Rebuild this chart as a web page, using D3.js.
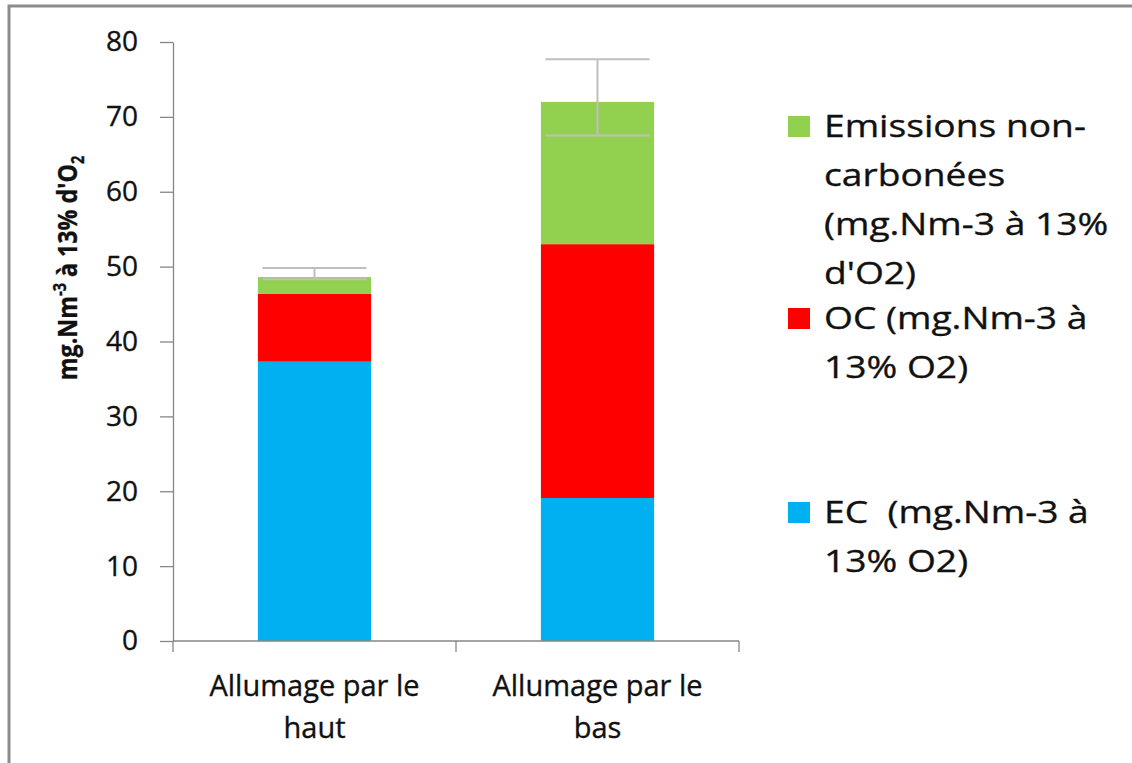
<!DOCTYPE html>
<html>
<head>
<meta charset="utf-8">
<script src="https://cdn.jsdelivr.net/npm/d3@7"></script>
<style>
  body { margin: 0; background: #fff; }
  svg { display: block; }
  text { font-family: 'Open Sans', sans-serif; fill: #111; stroke: #111; stroke-width: 0.35px; white-space: pre; }
</style>
</head>
<body>
<svg id="chart" width="1132" height="763"></svg>
<script>
// data
const categories = [['Allumage par le', 'haut'], ['Allumage par le', 'bas']];
const ec = [37.3, 19.1];
const oc = [9.1, 33.9];
const nonCarbon = [2.2, 19.0];
const errPlus = [1.2, 5.7];
const errMinus = [0.3, 4.5];
const yTicks = [0, 10, 20, 30, 40, 50, 60, 70, 80];

const series = [
  { key: 'ec', values: ec, color: '#00B0F0' },
  { key: 'oc', values: oc, color: '#FF0000' },
  { key: 'nc', values: nonCarbon, color: '#92D050' },
];

const legendItems = [
  { color: '#92D050', lines: ['Emissions non-', 'carbonées', '(mg.Nm-3 à 13%', "d'O2)"] },
  { color: '#FF0000', lines: ['OC (mg.Nm-3 à', '13% O2)'] },
  { color: '#00B0F0', lines: ['EC\u00a0 (mg.Nm-3 à', '13% O2)'] },
];

const svg = d3.select('#chart');

// frame
svg.append('rect')
  .attr('x', 9).attr('y', 6)
  .attr('width', 1300).attr('height', 900)
  .attr('fill', 'none')
  .attr('stroke', '#8c8c8c')
  .attr('stroke-width', 3);

const plot = { left: 173, right: 739, top: 42, bottom: 641 };

const x = d3.scaleBand()
  .domain(d3.range(categories.length))
  .range([plot.left, plot.right])
  .padding(0);

const y = d3.scaleLinear().domain([0, 80]).range([plot.bottom, plot.top]);

const barW = x.bandwidth() * 0.4;

// stacked values
const stackData = d3.range(categories.length).map((i) => {
  const o = { i: i };
  series.forEach((s) => (o[s.key] = s.values[i]));
  return o;
});
const stacked = d3.stack().keys(series.map((s) => s.key))(stackData);

// bars
svg.append('g')
  .selectAll('g')
  .data(stacked)
  .join('g')
  .attr('fill', (d, i) => series[i].color)
  .selectAll('rect')
  .data((d) => d)
  .join('rect')
  .attr('x', (d) => x(d.data.i) + (x.bandwidth() - barW) / 2)
  .attr('y', (d) => y(d[1]))
  .attr('width', barW)
  .attr('height', (d) => y(d[0]) - y(d[1]));

// y axis
const yAxis = svg.append('g')
  .attr('transform', `translate(${plot.left},0)`)
  .call(d3.axisLeft(y).tickValues(yTicks).tickSize(13).tickSizeOuter(0).tickPadding(22));
yAxis.select('.domain').attr('stroke', '#868686').attr('stroke-width', 1.3);
yAxis.selectAll('.tick line').attr('stroke', '#868686').attr('stroke-width', 1.3);
yAxis.selectAll('.tick text')
  .style('font-family', "'Open Sans', sans-serif")
  .style('font-size', '28px')
  .attr('fill', '#111');

// x axis line and boundary ticks
const xAxis = svg.append('g');
xAxis.append('line')
  .attr('x1', plot.left).attr('x2', plot.right)
  .attr('y1', y(0)).attr('y2', y(0))
  .attr('stroke', '#868686').attr('stroke-width', 1.3);
const bounds = d3.range(categories.length).map((i) => x(i)).concat([x(categories.length - 1) + x.bandwidth()]);
xAxis.selectAll('line.tk')
  .data(bounds)
  .join('line')
  .attr('class', 'tk')
  .attr('x1', (d) => d).attr('x2', (d) => d)
  .attr('y1', y(0)).attr('y2', y(0) + 11)
  .attr('stroke', '#868686').attr('stroke-width', 1.3);

xAxis.selectAll('text')
  .data(categories)
  .join('text')
  .attr('text-anchor', 'middle')
  .style('font-size', '29px')
  .each(function (lines, i) {
    d3.select(this).selectAll('tspan')
      .data(lines)
      .join('tspan')
      .attr('x', x(i) + x.bandwidth() / 2)
      .attr('y', (d, j) => 696 + j * 42)
      .text((d) => d);
  });

// error bars
const capW = barW * 0.92;
const errG = svg.append('g').attr('stroke', '#BFBFBF').attr('stroke-width', 2);
stackData.forEach((d, i) => {
  const total = ec[i] + oc[i] + nonCarbon[i];
  const cx = x(i) + x.bandwidth() / 2;
  const hi = y(total + errPlus[i]);
  const lo = y(total - errMinus[i]);
  errG.append('line').attr('x1', cx).attr('x2', cx).attr('y1', hi).attr('y2', lo);
  errG.append('line').attr('x1', cx - capW / 2).attr('x2', cx + capW / 2).attr('y1', hi).attr('y2', hi);
  errG.append('line').attr('x1', cx - capW / 2).attr('x2', cx + capW / 2).attr('y1', lo).attr('y2', lo);
});

// y axis title
const title = svg.append('text')
  .attr('transform', 'translate(77,268) rotate(-90) scale(0.86,1)')
  .attr('text-anchor', 'middle')
  .style('font-size', '27px')
  .style('font-weight', 'bold');
title.append('tspan').text('mg.Nm');
title.append('tspan').attr('dy', -11).style('font-size', '17px').text('-3');
title.append('tspan').attr('dy', 11).text(' à 13% d\'O');
title.append('tspan').attr('dy', 7).style('font-size', '17px').text('2');

// legend
const legendTops = [116, 308, 502];
const legend = svg.append('g');
legendItems.forEach((item, k) => {
  const top = legendTops[k];
  legend.append('rect')
    .attr('x', 788).attr('y', top)
    .attr('width', 22).attr('height', 21)
    .attr('fill', item.color);
  legend.append('g')
    .attr('transform', `translate(824,0) scale(1.2,1)`)
    .selectAll('text')
    .data(item.lines)
    .join('text')
    .attr('x', 0)
    .attr('y', (d, j) => top + 21 + j * 49)
    .style('font-size', '31px')
    .text((d) => d);
});
</script>
</body>
</html>
